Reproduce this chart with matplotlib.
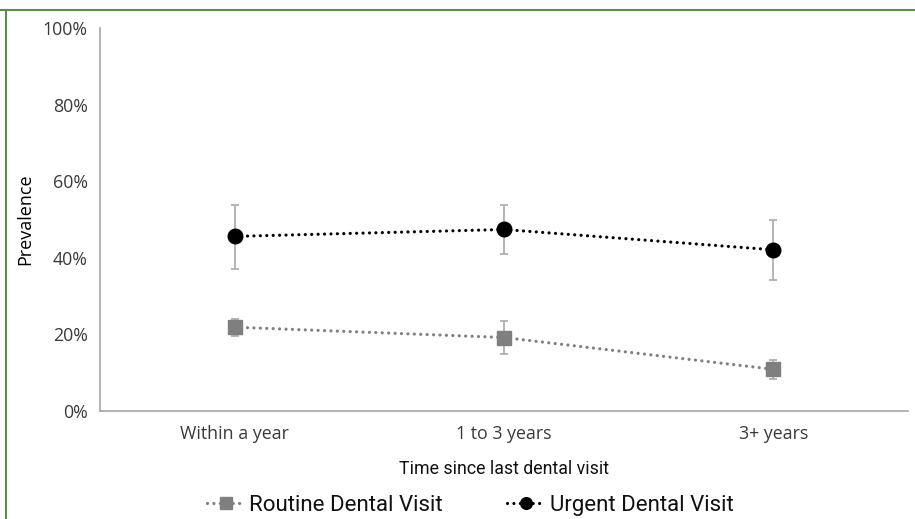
import matplotlib
matplotlib.use("Agg")
import matplotlib.pyplot as plt
from matplotlib.lines import Line2D
from matplotlib.ticker import FuncFormatter

categories = ["Within a year", "1 to 3 years", "3+ years"]
routine = [21.9, 19.2, 10.9]
routine_lo = [19.6, 14.8, 8.4]
routine_hi = [24.1, 23.4, 13.3]
urgent = [45.6, 47.4, 42.1]
urgent_lo = [37.2, 41.0, 34.3]
urgent_hi = [53.8, 53.7, 49.9]
yticks = [0, 20, 40, 60, 80, 100]

fig = plt.figure(figsize=(9.15, 5.19), dpi=100)
ax = fig.add_axes([0.1093, 0.208, 0.883, 0.738])

x = list(range(len(categories)))
err_color = "#b0b0b0"

def draw(vals, lo, hi, color, marker, ms, label):
    yerr = [[v - l for v, l in zip(vals, lo)], [h - v for v, h in zip(vals, hi)]]
    ax.errorbar(x, vals, yerr=yerr, fmt="none", ecolor=err_color, elinewidth=1.3,
                capsize=3, capthick=1.3, zorder=2)
    ax.plot(x, vals, linestyle=(0, (0.01, 2.0)), linewidth=2.3, color=color,
            marker=marker, markersize=ms, markerfacecolor=color,
            markeredgecolor=color, label=label, zorder=3,
            dash_capstyle="round")

draw(routine, routine_lo, routine_hi, "#7f7f7f", "s", 10, "Routine Dental Visit")
draw(urgent, urgent_lo, urgent_hi, "#000000", "o", 10.5, "Urgent Dental Visit")

ax.set_xlim(-0.5, len(categories) - 0.5)
ax.set_ylim(0, 100)
ax.set_yticks(yticks)
ax.yaxis.set_major_formatter(FuncFormatter(lambda v, p: f"{int(v)}%"))
ax.set_xticks(x)
ax.set_xticklabels(categories)
for s in ["top", "right"]:
    ax.spines[s].set_visible(False)
for s in ["left", "bottom"]:
    ax.spines[s].set_color("#a6a6a6")
    ax.spines[s].set_linewidth(1.2)
ax.tick_params(axis="both", length=0, labelsize=12.8, pad=10)
ax.tick_params(axis="y", pad=9)
for t in ax.get_xticklabels() + ax.get_yticklabels():
    t.set_family(["Open Sans", "DejaVu Sans"])
    t.set_color("#3a3a3a")

ax.set_ylabel("Prevalence", fontsize=13, family=["Open Sans", "DejaVu Sans"],
              color="#000000", labelpad=6)
ax.set_xlabel("Time since last dental visit", fontsize=12.8,
              family=["Roboto", "DejaVu Sans"], color="#111111", labelpad=12)

leg = fig.legend(loc="center", bbox_to_anchor=(0.514, 0.026), ncol=2, frameon=False,
                 prop={"family": ["Roboto", "DejaVu Sans"], "size": 16},
                 handlelength=1.7, handletextpad=0.22, columnspacing=2.9, markerscale=0.8)
for t in leg.get_texts():
    t.set_color("#111111")

# green border (cropped frame)
fig.add_artist(Line2D([0, 1], [1 - 10 / 519, 1 - 10 / 519], transform=fig.transFigure,
                      color="#5b8f47", linewidth=1.5))
fig.add_artist(Line2D([5.5 / 915, 5.5 / 915], [0, 1 - 10 / 519], transform=fig.transFigure,
                      color="#5b8f47", linewidth=1.5))

fig.savefig("out.png", dpi=100)
